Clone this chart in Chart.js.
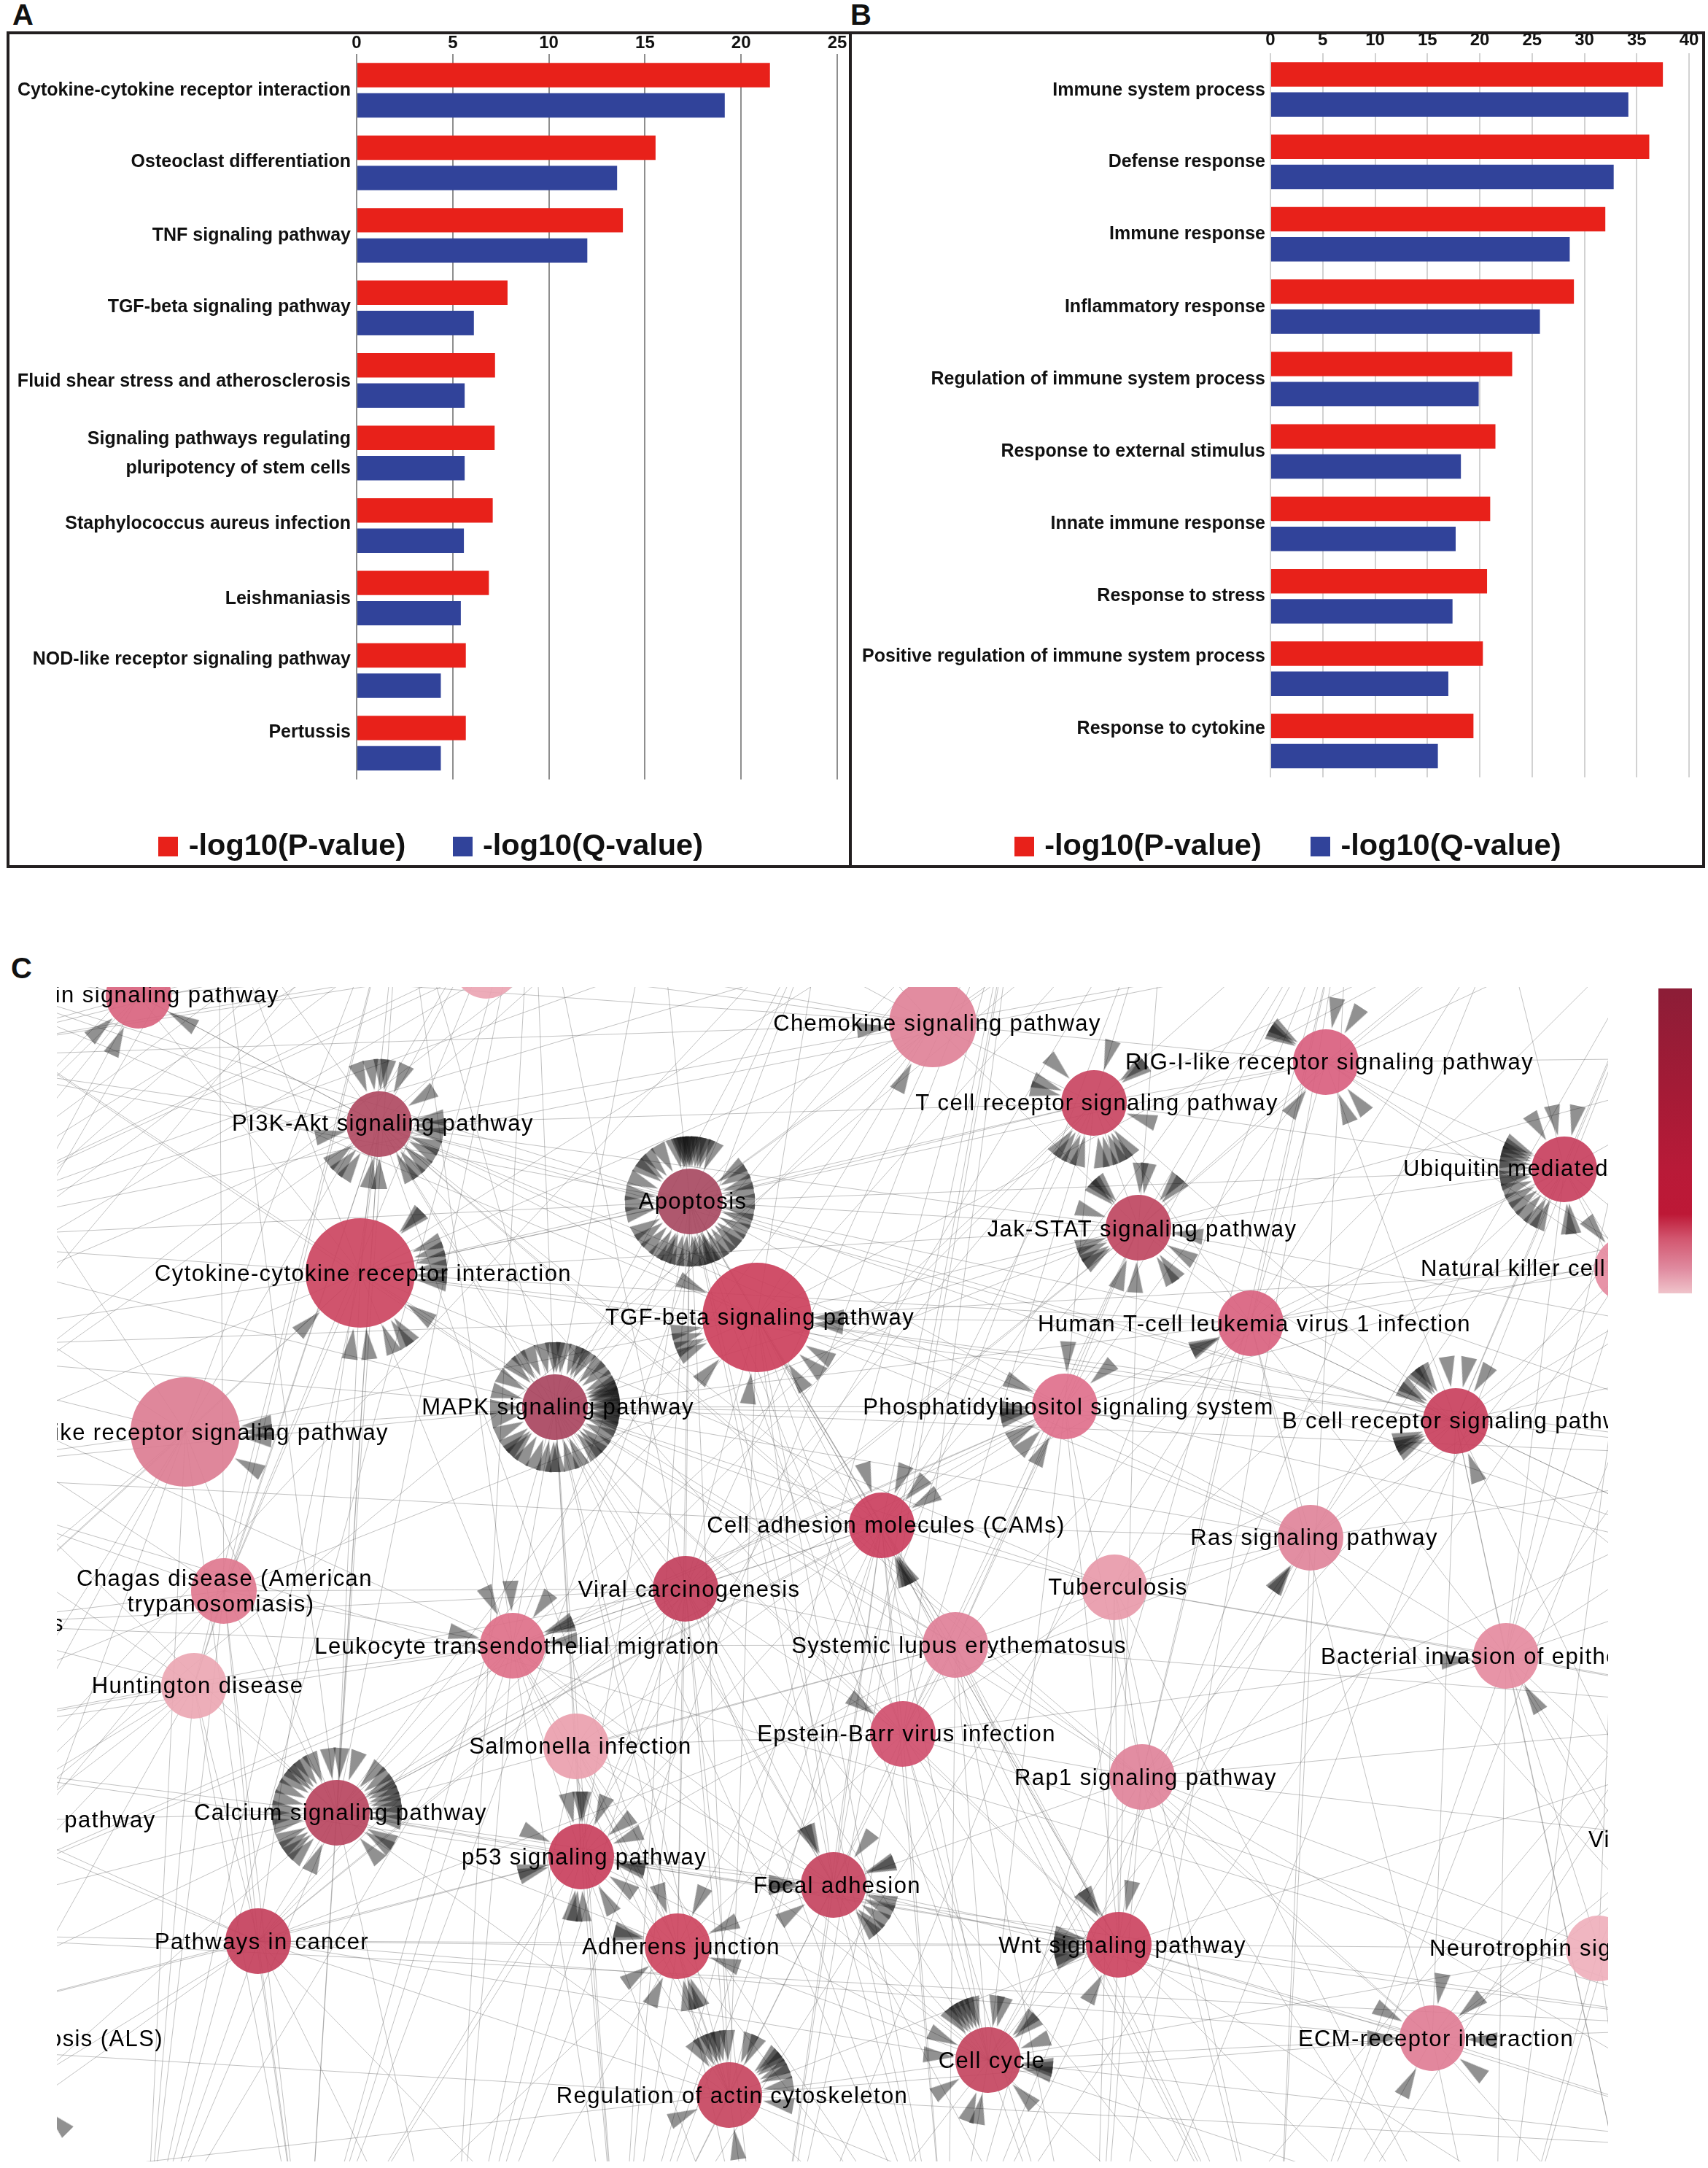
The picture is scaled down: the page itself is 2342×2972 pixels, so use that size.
<!DOCTYPE html>
<html>
<head>
<meta charset="utf-8">
<title>Enrichment bars and pathway network</title>
<script src="https://cdn.jsdelivr.net/npm/chart.js@4"></script>
<style>
    html, body { margin: 0; padding: 0; background: #fff; }
    body { position: relative; width: 2342px; height: 2972px; overflow: hidden; font-family: "Liberation Sans", Arial, sans-serif; }
    .letter { position: absolute; font-weight: bold; font-size: 40px; line-height: 40px; color: #111; }
    .frame { position: absolute; border: 4px solid #231f20; box-sizing: border-box; }
    canvas { position: absolute; }
    #scalebar { position: absolute; left: 2274px; top: 1355px; width: 46px; height: 418px;
        background: linear-gradient(to bottom, #8c1d37 0%, #a31b36 32%, #b91a38 60%, #bd1836 74%, #d2566f 82%, #e08ba0 92%, #f0c4cb 100%); }
</style>
</head>
<body>
<div class="letter" style="left:17px;top:0px">A</div>
<div class="letter" style="left:1166px;top:0px">B</div>
<div class="letter" style="left:15px;top:1307px">C</div>
<div class="frame" style="left:9px;top:43px;width:1159px;height:1147px"></div>
<div class="frame" style="left:1164px;top:43px;width:1174px;height:1147px"></div>
<canvas id="chartA" style="left:0;top:46px"></canvas>
<canvas id="chartB" style="left:1166px;top:46px"></canvas>
<canvas id="chartC" style="left:78px;top:1353px"></canvas>
<div id="scalebar"></div>

<script>
// --- panel A: KEGG terms ---
const termsA = ['Cytokine-cytokine receptor interaction', 'Osteoclast differentiation', 'TNF signaling pathway',
    'TGF-beta signaling pathway', 'Fluid shear stress and atherosclerosis',
    ['Signaling pathways regulating', 'pluripotency of stem cells'], 'Staphylococcus aureus infection',
    'Leishmaniasis', 'NOD-like receptor signaling pathway', 'Pertussis'];
const pValuesA = [21.5, 15.55, 13.85, 7.85, 7.2, 7.18, 7.08, 6.88, 5.68, 5.68];
const qValuesA = [19.15, 13.55, 12.0, 6.1, 5.62, 5.62, 5.58, 5.42, 4.38, 4.38];
const ticksA = [0, 5, 10, 15, 20, 25];
const labelNudgeA = [0, -1, 0, -1, 2, 1, -2, 1, -15, -15];

// --- panel B: GO terms ---
const termsB = ['Immune system process', 'Defense response', 'Immune response', 'Inflammatory response',
    'Regulation of immune system process', 'Response to external stimulus', 'Innate immune response',
    'Response to stress', 'Positive regulation of immune system process', 'Response to cytokine'];
const pValuesB = [37.5, 36.2, 32.0, 29.0, 23.1, 21.5, 21.0, 20.7, 20.3, 19.4];
const qValuesB = [34.2, 32.8, 28.6, 25.75, 19.9, 18.2, 17.7, 17.4, 17.0, 16.0];
const ticksB = [0, 5, 10, 15, 20, 25, 30, 35, 40];
const labelNudgeB = [1, 0, 0, 1, 0, 0, 0, 0, -17, -17];

// --- panel C: pathway network, node centres ---
const nodeX = [190, 667, 520, 494, 946, 1038, 761, 254, 1279, 1500, 1818, 2145, 2231, 1561, 1715, 1460, 1996, 1209, 1797,
    307, 940, 703, 266, 790, 462, 797, 1143, 354, 929, 1000, 1528, 1310, 1238, 2065, 1566, 1534, 1355, 1964, 2192];
const nodeY = [1365, 1324, 1541, 1745, 1647, 1806, 1929, 1963, 1403, 1512, 1456, 1603, 1740, 1683, 1814, 1928, 1948, 2091, 2108,
    2181, 2178, 2256, 2311, 2394, 2485, 2545, 2584, 2661, 2668, 2872, 2176, 2255, 2377, 2270, 2436, 2666, 2824, 2794, 2671];
const nodeR = [45, 45, 45, 75, 45, 75, 45, 75, 60, 45, 45, 45, 45, 45, 45, 45, 45, 45, 45,
    45, 45, 45, 45, 45, 45, 45, 45, 45, 45, 45, 45, 45, 45, 45, 45, 45, 45, 45, 45];
const nodeShade = ['#d9647f', '#eba5b3', '#b04a62', '#cc4561', '#a84a62', '#cc405c', '#a9455f', '#dc7d92', '#df8298', '#c94562',
    '#d9607f', '#c8405e', '#e58a9f', '#bf4661', '#d9627f', '#e0708c', '#c9405d', '#cb3f5e', '#e0849a',
    '#e0788f', '#c23f5c', '#de7089', '#eba7b3', '#eaa0ae', '#b9455f', '#c9405d', '#c64460', '#c4405c', '#cd4560', '#c74560',
    '#e89aaa', '#e08098', '#d04f6e', '#e58ba0', '#e0839a', '#cc4461', '#c4455f', '#df7d95', '#efb0bc'];

// nodes that sit outside the frame, only their edges reach in (index 39 onwards)
const outsideX = [2330, 30, -60, -40, 300, 900, 1130, 1600, 2060, 2420, 2450, 2420, 2400, 2250, 1750, 1300, 850, 420, -120, -180, -160, -150, -120,
    550, 730, 1400, 1850, 2300, 2500, 2480, 2500, 2450, 2050, 1500, 1050, 620, 200, -200, -220, -200, -180];
const outsideY = [2523, 2860, 2227, 2497, 1230, 1200, 1240, 1180, 1260, 1450, 1850, 2150, 2780, 3120, 3180, 3150, 3170, 3150, 3000, 2650, 2020, 1700, 1450,
    1180, 1150, 1170, 1200, 1230, 1650, 2000, 2350, 2950, 3200, 3250, 3220, 3200, 3100, 2800, 2400, 1850, 1300];

const edgeTargets = {
    6: [2, 3, 4, 5, 7, 8, 13, 15, 17, 20, 21, 23, 25, 26, 28, 29, 31, 32, 35, 44, 45, 55, 54, 56, 59, 60, 53, 16, 14, 18, 30, 34],
    4: [2, 3, 5, 8, 9, 13, 14, 15, 16, 17, 20, 21, 25, 26, 29, 32, 36, 11, 44, 46, 45, 50, 54, 55, 60, 61, 35, 28],
    2: [0, 3, 5, 8, 9, 13, 15, 17, 18, 19, 24, 27, 26, 29, 32, 43, 44, 59, 61, 16, 22, 34, 37, 56],
    24: [3, 5, 7, 15, 17, 19, 21, 22, 25, 26, 27, 28, 31, 35, 42, 56, 57, 58, 43, 20, 8, 11, 29],
    3: [5, 7, 9, 13, 16, 19, 21, 31, 43, 60, 59, 8, 10, 14, 30],
    5: [7, 8, 13, 14, 15, 16, 17, 20, 26, 29, 31, 32, 35, 45, 46, 47, 53, 54, 12, 18],
    13: [9, 10, 11, 14, 15, 16, 17, 8, 20, 27, 19, 31, 32, 35, 46, 47, 48, 49],
    9: [8, 10, 14, 15, 16, 17, 21, 32, 46, 47, 27, 11, 20],
    10: [8, 11, 14, 47, 48, 49, 16, 15, 12],
    11: [12, 14, 16, 18, 33, 47, 48, 49, 50, 30],
    12: [14, 16, 33, 49, 50, 38],
    14: [15, 16, 18, 31, 34, 50, 30, 33, 37],
    15: [17, 18, 20, 21, 31, 32, 34, 35, 50, 36, 58],
    16: [18, 33, 37, 49, 50, 51, 30, 34, 52],
    17: [18, 20, 21, 23, 25, 26, 28, 29, 30, 31, 32, 35, 36, 54, 55, 53, 59],
    18: [30, 33, 34, 35, 27, 36, 51, 53],
    19: [21, 22, 58, 59, 20, 41, 43, 27, 56],
    20: [21, 23, 25, 26, 28, 29, 31, 32, 36, 54, 55, 27, 41, 58],
    21: [22, 23, 25, 26, 27, 28, 29, 31, 41, 56, 55, 36],
    22: [27, 41, 58, 57, 42, 59, 56],
    23: [25, 26, 28, 29, 31, 32, 36, 55, 54],
    25: [26, 27, 28, 29, 35, 36, 55, 56, 31],
    26: [28, 29, 32, 34, 35, 36, 54, 55, 31, 37],
    27: [28, 29, 57, 58, 40, 56, 55, 35, 36, 37, 42],
    28: [29, 35, 36, 54, 55, 32, 56],
    29: [35, 36, 54, 55, 53, 37, 57],
    30: [31, 32, 34, 35, 53, 33],
    31: [32, 34, 35, 36, 54, 53],
    32: [34, 35, 36, 54, 53, 33, 51],
    33: [38, 39, 50, 51, 52, 53, 34],
    34: [35, 36, 37, 39, 53, 38],
    35: [36, 37, 38, 53, 52, 54, 51],
    36: [37, 53, 54, 52, 38],
    37: [38, 39, 51, 52, 53, 50],
    38: [39, 51, 52, 50],
    8: [44, 46, 47, 45, 43, 61, 1],
    0: [43, 61, 60, 1, 59, 44, 2, 3],
    1: [43, 44, 45, 60],
    7: [59, 60, 57, 56, 58, 41],
    39: [50, 51, 49],
    43: [59, 60, 61, 78],
    44: [60, 61, 59, 78],
    45: [61, 60, 56, 58],
    46: [60, 61, 55, 56, 58],
    47: [55, 54, 60],
    48: [54, 53, 73],
    50: [53, 72],
    51: [59, 58, 77],
    62: [3, 7, 0, 59, 60, 78, 22, 19, 24, 6, 21],
    63: [2, 7, 19, 78, 60, 6, 24, 20, 75, 74],
    64: [4, 3, 6, 17, 20, 26, 32, 74, 73, 55],
    65: [9, 13, 15, 17, 14, 34, 72, 53, 54, 73],
    66: [11, 10, 14, 16, 18, 33, 71, 72],
    67: [11, 12, 16, 14, 15, 18, 69, 71, 33],
    68: [16, 18, 33, 34, 12, 5, 6, 13],
    69: [33, 34, 35, 37, 38, 16, 30, 31],
    70: [37, 38, 35, 33, 34, 36, 29],
    71: [37, 38, 33, 35, 34, 30],
    72: [35, 34, 36, 30, 26, 32, 31],
    73: [29, 26, 28, 25, 32, 17, 20],
    74: [27, 25, 24, 21, 23, 20, 28],
    75: [27, 24, 22, 19, 21, 7, 3],
    76: [27, 24, 22, 19, 7, 25, 29],
    77: [22, 19, 24, 27, 7, 21, 3, 20],
    78: [7, 19, 3, 2, 6, 24, 21, 5],
    79: [0, 2, 3, 4, 7, 6, 5, 8]
};

// arrowheads around each node, clock angle in degrees (0 = up)
const wedgeAngles = {
    0: [119, 205, 229],
    2: [339, 352, 2, 8, 25, 58, 84, 92, 100, 112, 120, 132, 142, 150, 180, 190, 213, 222, 232, 258],
    3: [44, 46, 68, 74, 80, 86, 92, 97, 124, 143, 147, 157, 174, 187, 226],
    4: [345, 350, 352, 355, 358, 0, 3, 8, 12, 16, 24, 55, 62, 72, 80, 90, 100, 108, 118, 128, 134, 142, 150, 158, 160, 165, 172, 176, 185, 192, 200, 204, 212,
        222, 232, 240, 258, 268, 278, 292, 305, 310, 318, 330],
    5: [90, 96, 120, 131, 146, 186, 222, 243, 248, 254, 260, 296],
    6: [335, 348, 358, 2, 8, 20, 26, 32, 44, 52, 62, 68, 72, 74, 78, 80, 86, 88, 92, 98, 100, 104, 110, 118, 128, 134, 140, 155, 165, 178, 182, 190, 200, 212,
        222, 226, 232, 245, 258, 270, 285, 300, 315, 325],
    7: [84, 90, 95, 118],
    8: [208, 265],
    9: [291, 283, 315, 17, 50, 54, 108, 143, 150, 156, 165, 173, 195, 203, 212, 218],
    10: [10, 33, 298, 301, 305, 215, 158, 141],
    11: [328, 349, 12, 296, 292, 288, 284, 278, 272, 262, 258, 250, 240, 232, 222, 212, 205, 176, 172],
    12: [321],
    13: [2, 9, 38, 43, 312, 316, 320, 288, 98, 121, 142, 148, 183, 200, 234, 238, 245, 252],
    14: [244, 246],
    15: [3, 48, 295, 258, 262, 268, 239, 225, 207],
    16: [352, 12, 32, 328, 323, 319, 300, 305, 240, 245, 248, 252, 159],
    17: [343, 22, 43, 60, 152, 155, 158],
    18: [214, 216],
    21: [334, 358, 36, 67, 70, 85, 283],
    24: [305, 312, 318, 325, 335, 352, 4, 20, 42, 52, 60, 66, 72, 78, 84, 90, 98, 118, 124, 138, 205, 222, 230, 236, 244, 258, 266, 274, 284, 295],
    25: [347, 359, 2, 23, 52, 68, 295, 252, 256, 100, 103, 125, 150, 178, 186, 190],
    26: [333, 336, 37, 68, 70, 268, 272, 236, 107, 115, 125, 135, 140],
    28: [342, 25, 67, 282, 285, 109, 235, 205, 170, 163, 158],
    29: [325, 333, 340, 345, 350, 358, 20, 27, 47, 51, 55, 63, 68, 80, 100, 246, 172],
    32: [305],
    33: [265, 148],
    35: [324, 328, 12, 265, 270, 275, 280, 255, 258, 209],
    36: [320, 325, 330, 335, 340, 345, 296, 275, 8, 15, 45, 50, 70, 95, 98, 103, 135, 190, 200, 237],
    37: [9, 50, 299, 270, 92, 127, 208],
    40: [135]
};

const labelTexts = ['Insulin signaling pathway', 'PI3K-Akt signaling pathway', 'Cytokine-cytokine receptor interaction', 'Apoptosis',
    'TGF-beta signaling pathway', 'MAPK signaling pathway', 'Toll-like receptor signaling pathway', 'Chemokine signaling pathway',
    'RIG-I-like receptor signaling pathway', 'T cell receptor signaling pathway', 'Ubiquitin mediated proteolysis', 'Jak-STAT signaling pathway',
    'Natural killer cell mediated cytotoxicity', 'Human T-cell leukemia virus 1 infection', 'Phosphatidylinositol signaling system',
    'B cell receptor signaling pathway', 'Cell adhesion molecules (CAMs)', 'Ras signaling pathway', 'Chagas disease (American', 'trypanosomiasis)',
    'Viral carcinogenesis', 'Leukocyte transendothelial migration', 'Huntington disease', 'Salmonella infection', 'Calcium signaling pathway',
    'pathway', 'p53 signaling pathway', 'Focal adhesion', 'Pathways in cancer', 'Adherens junction', 'Regulation of actin cytoskeleton',
    'Amyotrophic lateral sclerosis (ALS)', 'Systemic lupus erythematosus', 'Epstein-Barr virus infection', 'Tuberculosis',
    'Bacterial invasion of epithelial cells', 'Rap1 signaling pathway', 'Wnt signaling pathway', 'Cell cycle', 'ECM-receptor interaction',
    'Neurotrophin signaling pathway', 'Viral myocarditis', 'Measles'];
const labelX = [383, 525, 498, 950, 1042, 765, 533, 1285, 1823, 1504, 1924, 1566, 1948, 1720, 1465, 1758, 1215, 1802, 308, 303,
    945, 709, 271, 796, 467, 151, 801, 1148, 359, 934, 1004, 224, 1315, 1243, 1533, 1811, 1571, 1539, 1360, 1969, 1960, 2178, 88];
const labelY = [1365, 1541, 1747, 1648, 1807, 1930, 1965, 1404, 1457, 1513, 1603, 1686, 1740, 1816, 1930, 1949, 2092, 2109, 2165, 2200,
    2180, 2258, 2312, 2395, 2486, 2496, 2547, 2586, 2663, 2670, 2874, 2796, 2257, 2378, 2177, 2272, 2438, 2668, 2826, 2796, 2672, 2523, 2227];
const labelAlign = ['right', 'center', 'center', 'center', 'center', 'center', 'right', 'center', 'center', 'center', 'left', 'center',
    'left', 'center', 'center', 'left', 'center', 'center', 'center', 'center', 'center', 'center', 'center', 'center', 'center', 'center',
    'center', 'center', 'center', 'center', 'center', 'right', 'center', 'center', 'center', 'left', 'center', 'center', 'center', 'center',
    'left', 'left', 'right'];

const red = '#e8211a';
const blue = '#31439a';
const boldFont = 'Liberation Sans';

// the original labels do not all sit on their category, so shift the drawn ones
const nudgeLabelsPlugin = {
    id: 'nudgeLabels',
    beforeDraw(chart, args, opts) {
        // chart.js clips tick labels to the scale box, and the box starts after the left padding
        chart.scales.y.left = 0;
        const items = chart.scales.y.getLabelItems();
        items.forEach((item, i) => {
            if (!item.nudged) {
                item.options.translation[1] += opts.offsets[i] || 0;
                item.nudged = true;
            }
        });
    }
};

// legend swatch as an image: its size stays 27px while pointStyleWidth closes the gap to the text
function swatch(color) {
    const c = document.createElement('canvas');
    c.width = 27;
    c.height = 27;
    const g = c.getContext('2d');
    g.fillStyle = color;
    g.fillRect(0, 0, 27, 27);
    return c;
}

function barChart(id, width, height, padLeft, plotLeft, plotRight, terms, pValues, qValues, ticks, maxValue, gridColor, tickPad, labelPad, legendPad, offsets) {
    const canvas = document.getElementById(id);
    canvas.width = width;
    canvas.height = height;
    new Chart(canvas, {
        type: 'bar',
        data: {
            labels: terms,
            datasets: [
                { label: '-log10(P-value)', data: pValues, backgroundColor: red, pointStyle: swatch(red) },
                { label: '-log10(Q-value)', data: qValues, backgroundColor: blue, pointStyle: swatch(blue) }
            ]
        },
        options: {
            indexAxis: 'y',
            responsive: false,
            animation: false,
            events: [],
            categoryPercentage: 0.834,
            barPercentage: 0.807,
            // left padding centres the legend where the original has it
            layout: { padding: { left: padLeft, right: width - plotRight } },
            plugins: {
                tooltip: { enabled: false },
                nudgeLabels: { offsets: offsets },
                legend: {
                    position: 'bottom',
                    labels: {
                        usePointStyle: true,
                        pointStyleWidth: 14,
                        boxHeight: 27,
                        padding: legendPad,
                        color: '#111',
                        font: { family: boldFont, size: 41.5, weight: 'bold' }
                    }
                }
            },
            scales: {
                x: {
                    position: 'top',
                    min: 0,
                    max: maxValue,
                    afterBuildTicks: (scale) => { scale.ticks = ticks.map((v) => ({ value: v })); },
                    afterFit: (scale) => { scale.height = 27; },
                    border: { display: false },
                    grid: { color: gridColor, lineWidth: 2, drawTicks: false },
                    ticks: {
                        autoSkip: false,
                        maxRotation: 0,
                        padding: tickPad,
                        color: '#111',
                        font: { family: boldFont, size: 24, weight: 'bold' }
                    }
                },
                y: {
                    afterFit: (scale) => { scale.width = plotLeft - padLeft; },
                    border: { display: false },
                    grid: { display: false, drawTicks: false },
                    ticks: {
                        autoSkip: false,
                        padding: labelPad,
                        color: '#111',
                        font: { family: boldFont, size: 25, weight: 'bold', lineHeight: 1.6 }
                    }
                }
            }
        },
        plugins: [nudgeLabelsPlugin]
    });
}

barChart('chartA', 1178, 1145, 40, 489, 1148, termsA, pValuesA, qValuesA, ticksA, 25, '#8e8e8e', 0, 8, 71, labelNudgeA);
barChart('chartB', 1176, 1145, 56, 576, 1150, termsB, pValuesB, qValuesB, ticksB, 40, '#d2d2d2', 3, 7, 74, labelNudgeB);

// --- panel C ---
const allX = nodeX.concat(outsideX);
const allY = nodeY.concat(outsideY);

const edgePoints = [];
Object.keys(edgeTargets).forEach((from) => {
    edgeTargets[from].forEach((to) => {
        edgePoints.push({ x: allX[from], y: allY[from] }, { x: allX[to], y: allY[to] }, { x: NaN, y: NaN });
    });
});

const wedgePoints = [];
const wedgeRotation = [];
Object.keys(wedgeAngles).forEach((node) => {
    const r = (nodeR[node] || 45) + 23;
    wedgeAngles[node].forEach((angle) => {
        const rad = angle * Math.PI / 180;
        wedgePoints.push({ x: allX[node] + Math.sin(rad) * r, y: allY[node] - Math.cos(rad) * r });
        wedgeRotation.push(angle);
    });
});

// long thin triangle, tip down; chart.js turns it with pointRotation
const wedge = document.createElement('canvas');
wedge.width = 22;
wedge.height = 42;
const wctx = wedge.getContext('2d');
wctx.fillStyle = 'rgba(15, 15, 15, 0.46)';
wctx.beginPath();
wctx.moveTo(0, 0);
wctx.lineTo(22, 0);
wctx.lineTo(11, 42);
wctx.closePath();
wctx.fill();

const nodeLabelsPlugin = {
    id: 'nodeLabels',
    afterDatasetsDraw(chart) {
        const ctx = chart.ctx;
        ctx.save();
        ctx.font = '31px "Liberation Sans"';
        ctx.letterSpacing = '1.4px';
        ctx.fillStyle = '#000';
        ctx.textBaseline = 'middle';
        labelTexts.forEach((text, i) => {
            ctx.textAlign = labelAlign[i];
            ctx.fillText(text, chart.scales.x.getPixelForValue(labelX[i]), chart.scales.y.getPixelForValue(labelY[i]));
        });
        ctx.restore();
    }
};

const canvasC = document.getElementById('chartC');
canvasC.width = 2127;
canvasC.height = 1610;
new Chart(canvasC, {
    type: 'scatter',
    data: {
        datasets: [
            {
                type: 'bubble',
                data: nodeX.map((x, i) => ({ x: x, y: nodeY[i], r: nodeR[i] })),
                backgroundColor: nodeShade.map((c) => c + 'eb'),
                borderWidth: 0
            },
            {
                data: wedgePoints,
                pointStyle: wedge,
                pointRadius: 1,
                pointRotation: wedgeRotation
            },
            {
                data: edgePoints,
                showLine: true,
                spanGaps: false,
                pointRadius: 0,
                borderColor: 'rgba(110, 110, 110, 0.42)',
                borderWidth: 1
            }
        ]
    },
    options: {
        responsive: false,
        animation: false,
        events: [],
        layout: { padding: 0, autoPadding: false },
        plugins: { legend: { display: false }, tooltip: { enabled: false } },
        scales: {
            x: { type: 'linear', display: false, min: 78, max: 2205 },
            y: { type: 'linear', display: false, min: 1353, max: 2963, reverse: true }
        }
    },
    plugins: [nodeLabelsPlugin]
});
</script>
</body>
</html>
